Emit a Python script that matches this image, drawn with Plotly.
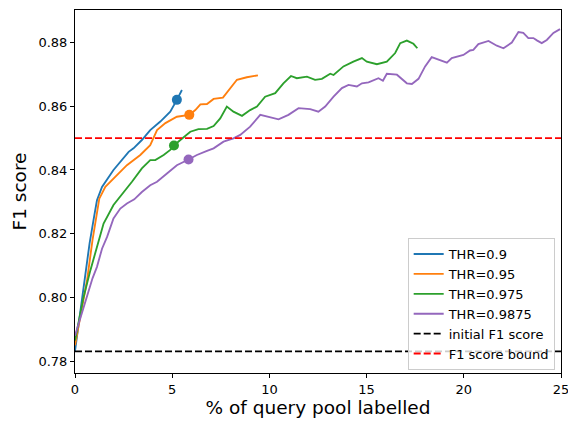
import plotly.graph_objects as go

# ---- data ----
x_range = [0, 25]
y_range = [0.7763, 0.8902]
y_ticks = [0.78, 0.80, 0.82, 0.84, 0.86, 0.88]
x_ticks = [0, 5, 10, 15, 20, 25]

initial_f1 = 0.7831
f1_bound = 0.85

labels = ["THR=0.9", "THR=0.95", "THR=0.975", "THR=0.9875"]
colors = ["#1f77b4", "#ff7f0e", "#2ca02c", "#9467bd"]

x_09 = [0, 0.25, 0.5, 0.75, 1.0, 1.13, 1.39, 1.56, 1.98, 2.76, 3.01, 3.44, 3.87, 4.39, 4.90, 5.24, 5.50]
y_09 = [0.7832, 0.795, 0.806, 0.817, 0.826, 0.8305, 0.8347, 0.8363, 0.840, 0.8457, 0.8468, 0.8494, 0.8525,
        0.8552, 0.8583, 0.862, 0.8651]

x_095 = [0, 0.3, 0.62, 0.9, 1.13, 1.25, 1.56, 1.98, 2.67, 3.36, 3.87, 4.22, 4.65, 5.24, 5.88, 6.19, 6.45,
         6.79, 7.13, 7.61, 7.99, 8.33, 8.84, 9.41]
y_095 = [0.785, 0.795, 0.8054, 0.818, 0.8263, 0.831, 0.8347, 0.8374, 0.8415, 0.8447, 0.8478, 0.8525, 0.8547,
         0.8567, 0.8573, 0.8588, 0.8606, 0.8607, 0.8623, 0.8627, 0.8657, 0.8683, 0.8691, 0.8697]

x_0975 = [0, 0.44, 0.79, 1.13, 1.47, 1.98, 2.33, 2.93, 3.44, 3.87, 4.13, 4.56, 4.90, 5.09, 5.42, 5.93, 6.35,
          6.79, 7.13, 7.47, 7.81, 8.15, 8.59, 9.01, 9.36, 9.78, 10.30, 10.72, 11.11, 11.41, 11.93, 12.35, 12.70,
          13.13, 13.30, 13.81, 14.32, 14.76, 15.01, 15.53, 16.04, 16.47, 16.73, 17.07, 17.41, 17.61]
y_0975 = [0.7865, 0.8001, 0.8085, 0.8159, 0.8232, 0.8290, 0.8316, 0.8363, 0.8405, 0.8431, 0.8431, 0.8447,
          0.8463, 0.8477, 0.8494, 0.8520, 0.8528, 0.8529, 0.8538, 0.8562, 0.8599, 0.8583, 0.8570, 0.8588,
          0.8599, 0.8630, 0.8641, 0.8672, 0.8695, 0.8688, 0.8693, 0.8683, 0.8686, 0.8702, 0.8698, 0.8725,
          0.8740, 0.8751, 0.8740, 0.8732, 0.8740, 0.8767, 0.8798, 0.8806, 0.8796, 0.8782]

x_09875 = [0, 0.3, 0.6, 0.9, 1.13, 1.39, 1.65, 1.98, 2.33, 2.67, 3.05, 3.44, 3.87, 4.22, 4.73, 5.24, 5.84,
           6.27, 6.79, 7.13, 7.64, 8.15, 8.50, 9.01, 9.53, 9.95, 10.47, 10.98, 11.50, 12.10, 12.52, 12.87,
           13.30, 13.73, 14.07, 14.50, 14.76, 15.10, 15.61, 15.84, 16.04, 16.56, 17.07, 17.33, 17.67, 18.01,
           18.35, 19.13, 19.38, 19.98, 20.32, 20.49, 20.75, 21.27, 21.70, 22.04, 22.47, 22.81, 23.06, 23.32,
           23.58, 23.78, 24.01, 24.27, 24.61, 24.95]
y_09875 = [0.788, 0.794, 0.800, 0.806, 0.8096, 0.8153, 0.8190, 0.8248, 0.8279, 0.8295, 0.8308, 0.8331,
           0.8352, 0.8363, 0.8389, 0.8415, 0.8433, 0.8447, 0.8460, 0.8468, 0.8489, 0.8499, 0.8510, 0.8536,
           0.8573, 0.8567, 0.8559, 0.8573, 0.8594, 0.8591, 0.8583, 0.8599, 0.8630, 0.8657, 0.8667, 0.8662,
           0.8672, 0.8675, 0.8688, 0.8680, 0.8702, 0.8699, 0.8672, 0.8670, 0.8686, 0.8725, 0.8754, 0.8737,
           0.8751, 0.8761, 0.8775, 0.8777, 0.8795, 0.8805, 0.8790, 0.8782, 0.8800, 0.8833, 0.8830, 0.8814,
           0.8814, 0.8806, 0.8798, 0.8808, 0.8830, 0.8842]

series_x = [x_09, x_095, x_0975, x_09875]
series_y = [y_09, y_095, y_0975, y_09875]

dot_x = [5.24, 5.88, 5.09, 5.84]
dot_y = [0.862, 0.8573, 0.8477, 0.8433]

# ---- figure ----
fig = go.Figure()
for xs, ys, lab, col in zip(series_x, series_y, labels, colors):
    fig.add_trace(go.Scatter(x=xs, y=ys, mode="lines", name=lab,
                             line=dict(color=col, width=1.85)))

fig.add_trace(go.Scatter(x=x_range, y=[initial_f1, initial_f1], mode="lines", name="initial F1 score",
                         line=dict(color="black", width=1.85, dash="7px,3px")))
fig.add_trace(go.Scatter(x=x_range, y=[f1_bound, f1_bound], mode="lines", name="F1 score bound",
                         line=dict(color="red", width=1.85, dash="7px,3px")))

for dx, dy, col in zip(dot_x, dot_y, colors):
    fig.add_trace(go.Scatter(x=[dx], y=[dy], mode="markers", showlegend=False,
                             marker=dict(color=col, size=10, line=dict(width=0))))

font_family = "DejaVu Sans"
fig.update_layout(
    width=568, height=425,
    margin=dict(l=75, r=7, t=10, b=52),
    plot_bgcolor="white", paper_bgcolor="white",
    font=dict(family=font_family, color="black", size=13),
    showlegend=True,
    legend=dict(x=0.987, y=0.008, xanchor="right", yanchor="bottom",
                bgcolor="rgba(255,255,255,0.8)", bordercolor="#cccccc", borderwidth=1,
                font=dict(size=13, family=font_family), tracegroupgap=0, itemwidth=30),
    xaxis=dict(range=x_range, tickvals=x_ticks, showline=True, mirror=True, linecolor="black",
               linewidth=1, ticks="outside", ticklen=4, tickwidth=1, tickcolor="black",
               showgrid=False, zeroline=False, ticklabeloverflow="allow", automargin=False,
               title=dict(text="% of query pool labelled", font=dict(size=18.5), standoff=4),
               tickfont=dict(size=13)),
    yaxis=dict(range=y_range, tickvals=y_ticks, tickformat=".2f", showline=True, mirror=True,
               linecolor="black", linewidth=1, ticks="outside", ticklen=4, tickwidth=1, tickcolor="black",
               showgrid=False, zeroline=False, automargin=False,
               title=dict(text="F1 score", font=dict(size=18.5), standoff=6),
               tickfont=dict(size=13)),
)

fig.write_html("out.html")
